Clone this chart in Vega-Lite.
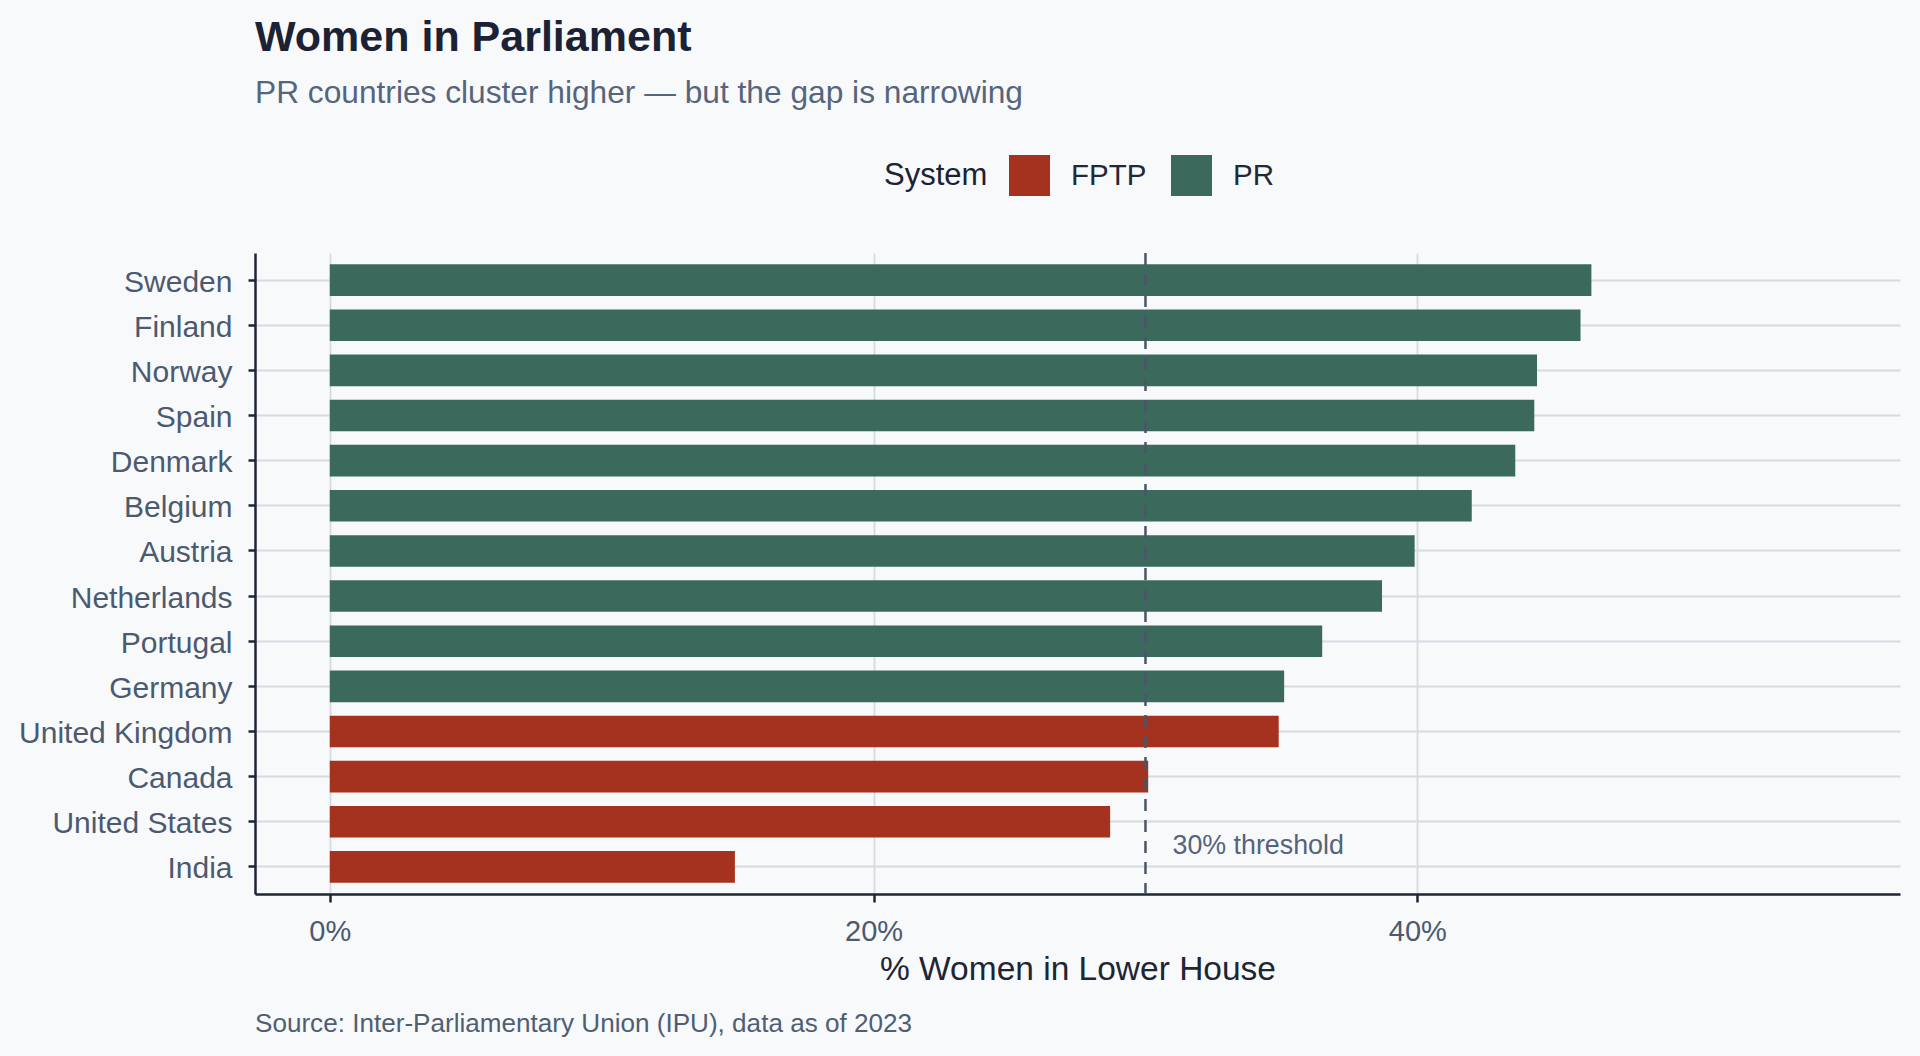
{
  "$schema": "https://vega.github.io/schema/vega-lite/v6.json",
  "width": 1645,
  "height": 641,
  "autosize": {"type": "none"},
  "padding": {"left": 255, "top": 253, "right": 20, "bottom": 162},
  "background": "#f8f9fa",
  "title": {
    "text": "Women in Parliament",
    "subtitle": "PR countries cluster higher — but the gap is narrowing",
    "anchor": "start",
    "frame": "group",
    "font": "Liberation Sans",
    "fontSize": 43,
    "fontWeight": "bold",
    "color": "#1a2233",
    "subtitleFont": "Liberation Sans",
    "subtitleFontSize": 31.7,
    "subtitleColor": "#56657c",
    "subtitlePadding": 18,
    "offset": 45
  },
  "config": {"view": {"stroke": null}, "font": "Liberation Sans"},
  "layer": [
    {
      "data": {
        "values": [
          {"country": "Sweden", "pct": 46.4, "system": "PR"},
          {"country": "Finland", "pct": 46.0, "system": "PR"},
          {"country": "Norway", "pct": 44.4, "system": "PR"},
          {"country": "Spain", "pct": 44.3, "system": "PR"},
          {"country": "Denmark", "pct": 43.6, "system": "PR"},
          {"country": "Belgium", "pct": 42.0, "system": "PR"},
          {"country": "Austria", "pct": 39.9, "system": "PR"},
          {"country": "Netherlands", "pct": 38.7, "system": "PR"},
          {"country": "Portugal", "pct": 36.5, "system": "PR"},
          {"country": "Germany", "pct": 35.1, "system": "PR"},
          {"country": "United Kingdom", "pct": 34.9, "system": "FPTP"},
          {"country": "Canada", "pct": 30.1, "system": "FPTP"},
          {"country": "United States", "pct": 28.7, "system": "FPTP"},
          {"country": "India", "pct": 14.9, "system": "FPTP"}
        ]
      },
      "mark": {"type": "bar"},
      "encoding": {
        "y": {
          "field": "country",
          "type": "nominal",
          "sort": ["Sweden", "Finland", "Norway", "Spain", "Denmark", "Belgium", "Austria", "Netherlands", "Portugal", "Germany", "United Kingdom", "Canada", "United States", "India"],
          "scale": {"paddingInner": 0.3, "paddingOuter": 0.25},
          "axis": {
            "title": null,
            "grid": true,
            "gridColor": "#d6dae1",
            "gridWidth": 1.8,
            "domainColor": "#1e2535",
            "domainWidth": 2.5,
            "tickColor": "#1e2535",
            "tickWidth": 2.5,
            "tickSize": 7,
            "labelFontSize": 30,
            "labelColor": "#4b5a70",
            "labelPadding": 16,
            "labelLimit": 400,
            "labelOffset": 2.5
          }
        },
        "x": {
          "field": "pct",
          "type": "quantitative",
          "scale": {"domain": [-2.75, 57.75], "nice": false, "zero": false},
          "axis": {
            "values": [0, 20, 40],
            "labelExpr": "datum.value + '%'",
            "grid": true,
            "gridColor": "#d6dae1",
            "gridWidth": 1.8,
            "domainColor": "#1e2535",
            "domainWidth": 2.5,
            "tickColor": "#1e2535",
            "tickWidth": 2.5,
            "tickSize": 8,
            "labelFontSize": 29,
            "labelColor": "#4b5a70",
            "labelPadding": 15,
            "labelFlush": false,
            "title": "% Women in Lower House",
            "titleFontSize": 33.5,
            "titleColor": "#1e2535",
            "titleFontWeight": "normal",
            "titlePadding": 7
          }
        },
        "x2": {"datum": 0},
        "color": {
          "field": "system",
          "type": "nominal",
          "scale": {"domain": ["FPTP", "PR"], "range": ["#a5321f", "#3b6a5c"]},
          "legend": {
            "orient": "none",
            "legendX": 629,
            "legendY": -98,
            "direction": "horizontal",
            "title": "System",
            "titleOrient": "left",
            "titleFontSize": 31,
            "titleColor": "#1a2233",
            "titleFontWeight": "normal",
            "titlePadding": 21,
            "titleBaseline": "middle",
            "labelFontSize": 29.5,
            "labelColor": "#1f2937",
            "labelOffset": 21,
            "symbolType": "square",
            "symbolSize": 1681,
            "symbolStrokeWidth": 0,
            "symbolOpacity": 1,
            "columnPadding": 24,
            "padding": 0
          }
        }
      }
    },
    {
      "data": {"values": [{"threshold": 30, "label": "30% threshold"}]},
      "mark": {"type": "rule", "color": "#4a5568", "strokeWidth": 2.5, "strokeDash": [12, 9]},
      "encoding": {"x": {"field": "threshold", "type": "quantitative"}}
    },
    {
      "data": {"values": [{"threshold": 30, "label": "30% threshold"}]},
      "mark": {"type": "text", "align": "left", "baseline": "middle", "dx": 27, "dy": -21, "fontSize": 26.8, "color": "#55647a"},
      "encoding": {
        "x": {"field": "threshold", "type": "quantitative"},
        "y": {"datum": "India", "type": "nominal"},
        "text": {"field": "label"}
      }
    },
    {
      "data": {"values": [{"caption": "Source: Inter-Parliamentary Union (IPU), data as of 2023"}]},
      "mark": {"type": "text", "align": "left", "baseline": "alphabetic", "dy": 165, "fontSize": 26.1, "color": "#4f5e74"},
      "encoding": {
        "x": {"datum": -2.75, "type": "quantitative"},
        "y": {"datum": "India", "type": "nominal"},
        "text": {"field": "caption"}
      }
    }
  ]
}
